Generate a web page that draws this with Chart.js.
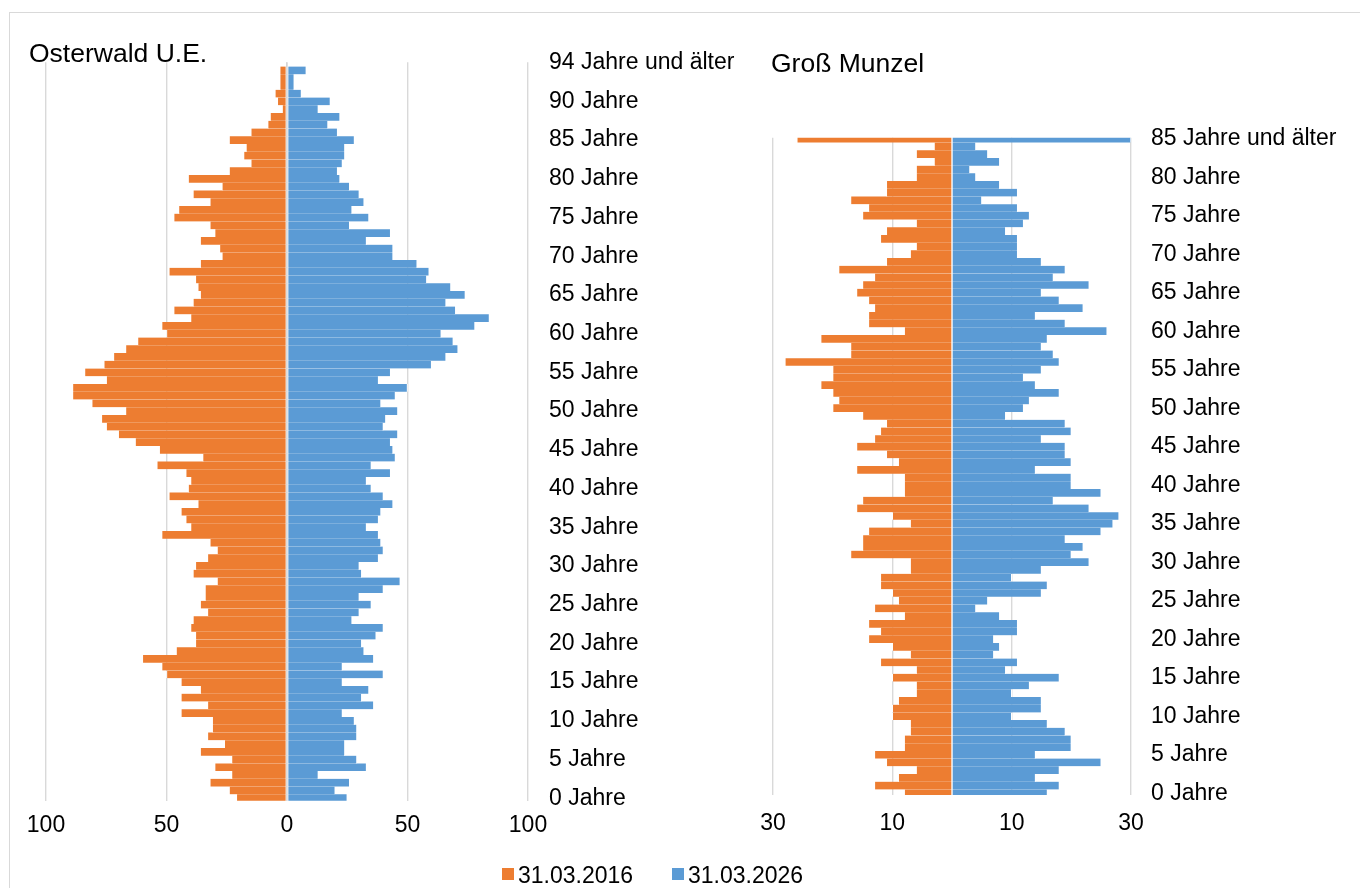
<!DOCTYPE html>
<html>
<head>
<meta charset="utf-8">
<script src="https://cdn.jsdelivr.net/npm/chart.js@4.4.1/dist/chart.umd.min.js"></script>
<style>
  html, body { margin: 0; padding: 0; background: #fff; }
  body { width: 1360px; height: 888px; position: relative; overflow: hidden;
         font-family: "Liberation Sans", Arial, sans-serif; color: #000; }
  #frame { position: absolute; left: 9px; top: 12px; width: 1400px; height: 900px;
           border-left: 1px solid #d9d9d9; border-top: 1px solid #d9d9d9; }
  canvas { position: absolute; top: 0; }
  #c1 { left: 0; }
  #c2 { left: 760px; }
  .title { position: absolute; font-size: 26.5px; line-height: 26px; white-space: nowrap; z-index: 2; }
  .leg { position: absolute; font-size: 23px; line-height: 23px; white-space: nowrap; z-index: 2; }
  .sw { position: absolute; width: 12px; height: 12px; z-index: 2; }
</style>
</head>
<body>
<div id="frame"></div>
<canvas id="c1" width="760" height="888" style="width:760px;height:888px"></canvas>
<canvas id="c2" width="600" height="888" style="width:600px;height:888px"></canvas>
<div class="title" style="left:29px;top:40px">Osterwald U.E.</div>
<div class="title" style="left:771px;top:50px">Groß Munzel</div>
<div class="sw" style="left:502px;top:868px;background:#ED7D31"></div>
<div class="leg" style="left:518px;top:864px">31.03.2016</div>
<div class="sw" style="left:672px;top:868px;background:#5B9BD5"></div>
<div class="leg" style="left:688px;top:864px">31.03.2026</div>
<script>
// ---------- data ----------
// Osterwald U.E., ages 0 .. 94 (und älter)
const osterwald2016 = [
  21,24,32,23,30,23,36,26,33,31,
  31,44,33,44,36,44,50,52,60,46,
  38,38,40,39,33,36,34,34,29,39,
  38,33,29,32,52,40,42,44,37,49,
  41,40,42,54,35,53,63,70,75,77,
  67,81,89,89,75,84,76,72,67,62,
  50,52,40,47,39,36,37,38,49,36,
  27,28,36,30,32,47,45,32,39,27,
  41,24,15,18,17,24,15,8,7,2,
  4,5,3,3,3
];
const osterwald2026 = [
  25,20,26,13,33,29,24,24,29,29,
  28,23,36,31,34,23,40,23,36,32,
  31,37,40,27,30,35,30,40,47,31,
  30,38,40,39,38,33,38,39,44,40,
  35,33,43,35,45,44,43,46,40,41,
  46,39,45,50,38,43,60,66,71,69,
  64,78,84,70,66,74,68,58,59,54,
  44,44,33,43,26,34,27,32,30,26,
  22,21,23,24,24,28,21,17,22,13,
  18,6,3,3,8
];
// Groß Munzel, ages 0 .. 85 (und älter)
const grossMunzel2016 = [
  8,13,9,6,11,13,8,8,7,7,
  10,10,9,6,6,10,6,12,7,10,
  14,12,14,8,13,9,10,12,12,7,
  7,17,15,15,14,7,10,16,15,8,
  8,8,16,9,11,16,13,12,11,15,
  20,19,20,22,20,20,28,17,17,22,
  8,14,14,13,14,16,15,13,19,11,
  7,6,12,11,6,15,14,17,11,11,
  6,6,3,6,3,26
];
const grossMunzel2026 = [
  16,18,14,18,25,14,20,20,19,16,
  10,15,15,10,13,18,9,11,7,8,
  7,11,11,8,4,6,15,16,10,15,
  23,20,22,19,25,27,28,23,17,25,
  20,20,14,20,19,19,15,20,19,9,
  12,13,18,14,12,15,18,17,15,16,
  26,19,14,22,18,15,23,17,19,15,
  11,11,11,9,12,13,11,5,11,8,
  4,3,8,6,4,30
];
const seriesNames = ['31.03.2016', '31.03.2026'];
const seriesColors = ['#ED7D31', '#5B9BD5'];

// age tick labels
const ageTicksL = [0,5,10,15,20,25,30,35,40,45,50,55,60,65,70,75,80,85,90,95];
const ageLabelsL = ['0 Jahre','5 Jahre','10 Jahre','15 Jahre','20 Jahre','25 Jahre','30 Jahre',
  '35 Jahre','40 Jahre','45 Jahre','50 Jahre','55 Jahre','60 Jahre','65 Jahre','70 Jahre',
  '75 Jahre','80 Jahre','85 Jahre','90 Jahre','94 Jahre und älter'];
const ageTicksR = [0,5,10,15,20,25,30,35,40,45,50,55,60,65,70,75,80,85];
const ageLabelsR = ['0 Jahre','5 Jahre','10 Jahre','15 Jahre','20 Jahre','25 Jahre','30 Jahre',
  '35 Jahre','40 Jahre','45 Jahre','50 Jahre','55 Jahre','60 Jahre','65 Jahre','70 Jahre',
  '75 Jahre','80 Jahre','85 Jahre und älter'];
// value axis ticks
const valueTicksL = [-100, -50, 0, 50, 100];
const valueTicksR = [-30, -10, 10, 30];

// ---------- helpers ----------
const FONT = { family: '"Liberation Sans", Arial, sans-serif', size: 23 };
const GRID = '#d9d9d9';

function makeDatasets(left, right) {
  const ages = left.map((_, i) => i);
  const common = {
    borderColor: '#ffffff',
    borderWidth: { left: 1, right: 1, top: 0, bottom: 0 },
    borderSkipped: false,
    grouped: false,
    barPercentage: 1,
    categoryPercentage: 1,
    clip: 0
  };
  return [
    Object.assign({ label: seriesNames[0], backgroundColor: seriesColors[0],
      data: ages.map((a, i) => ({ x: -left[i], y: a })) }, common),
    Object.assign({ label: seriesNames[1], backgroundColor: seriesColors[1],
      data: ages.map((a, i) => ({ x: right[i], y: a })) }, common)
  ];
}

const zeroLine = {
  id: 'zeroLine',
  afterDatasetsDraw(chart) {
    const x = chart.scales.x.getPixelForValue(0);
    const a = chart.chartArea;
    const ctx = chart.ctx;
    ctx.save();
    ctx.strokeStyle = '#cfcfcf';
    ctx.lineWidth = 1;
    ctx.beginPath();
    ctx.moveTo(x, a.top);
    ctx.lineTo(x, a.bottom);
    ctx.stroke();
    ctx.restore();
  }
};

function makeChart(id, left, right, opts) {
  return new Chart(document.getElementById(id), {
    type: 'bar',
    data: { datasets: makeDatasets(left, right) },
    plugins: opts.plugins || [],
    options: {
      indexAxis: 'y',
      responsive: false,
      animation: false,
      devicePixelRatio: 1,
      layout: { padding: opts.padding },
      plugins: { legend: { display: false }, tooltip: { enabled: false }, title: { display: false } },
      scales: {
        x: {
          type: 'linear', min: opts.xMin, max: opts.xMax, offset: false,
          afterBuildTicks: s => { s.ticks = opts.xTicks.map(v => ({ value: v })); },
          afterFit: s => { s.height = 60; },
          grid: { color: GRID, lineWidth: 1.4, drawTicks: false, offset: false },
          border: { display: false },
          ticks: { padding: 0, color: '#000',
                   font: Object.assign({ lineHeight: opts.xLineHeight }, FONT),
                   autoSkip: false, maxRotation: 0, callback: v => String(Math.abs(v)) }
        },
        y: {
          type: 'linear', position: 'right', min: opts.yMin, max: opts.yMax, offset: false,
          afterBuildTicks: s => { s.ticks = opts.yTicks.map(v => ({ value: v })); },
          afterFit: s => { s.width = opts.yWidth; },
          grid: { display: false, drawTicks: false, offset: false },
          border: { display: false },
          ticks: { padding: opts.yPad, color: '#000', font: FONT, autoSkip: false,
                   callback: v => opts.yLabels[opts.yTicks.indexOf(v)] }
        }
      }
    }
  });
}

makeChart('c1', osterwald2016, osterwald2026, {
  padding: { left: 46, top: 62.3, right: 0, bottom: 27.3 },
  xMin: -100, xMax: 100, xTicks: valueTicksL, xLineHeight: '50.6px',
  yMin: -0.32, yMax: 95.05, yTicks: ageTicksL, yLabels: ageLabelsL,
  yWidth: 232, yPad: 21,
  plugins: [zeroLine]
});

makeChart('c2', grossMunzel2016, grossMunzel2026, {
  padding: { left: 13, top: 137.7, right: 0, bottom: 33 },
  xMin: -30, xMax: 30, xTicks: valueTicksR, xLineHeight: '57px',
  yMin: -0.23, yMax: 85.13, yTicks: ageTicksR, yLabels: ageLabelsR,
  yWidth: 229, yPad: 20
});
</script>
</body>
</html>
